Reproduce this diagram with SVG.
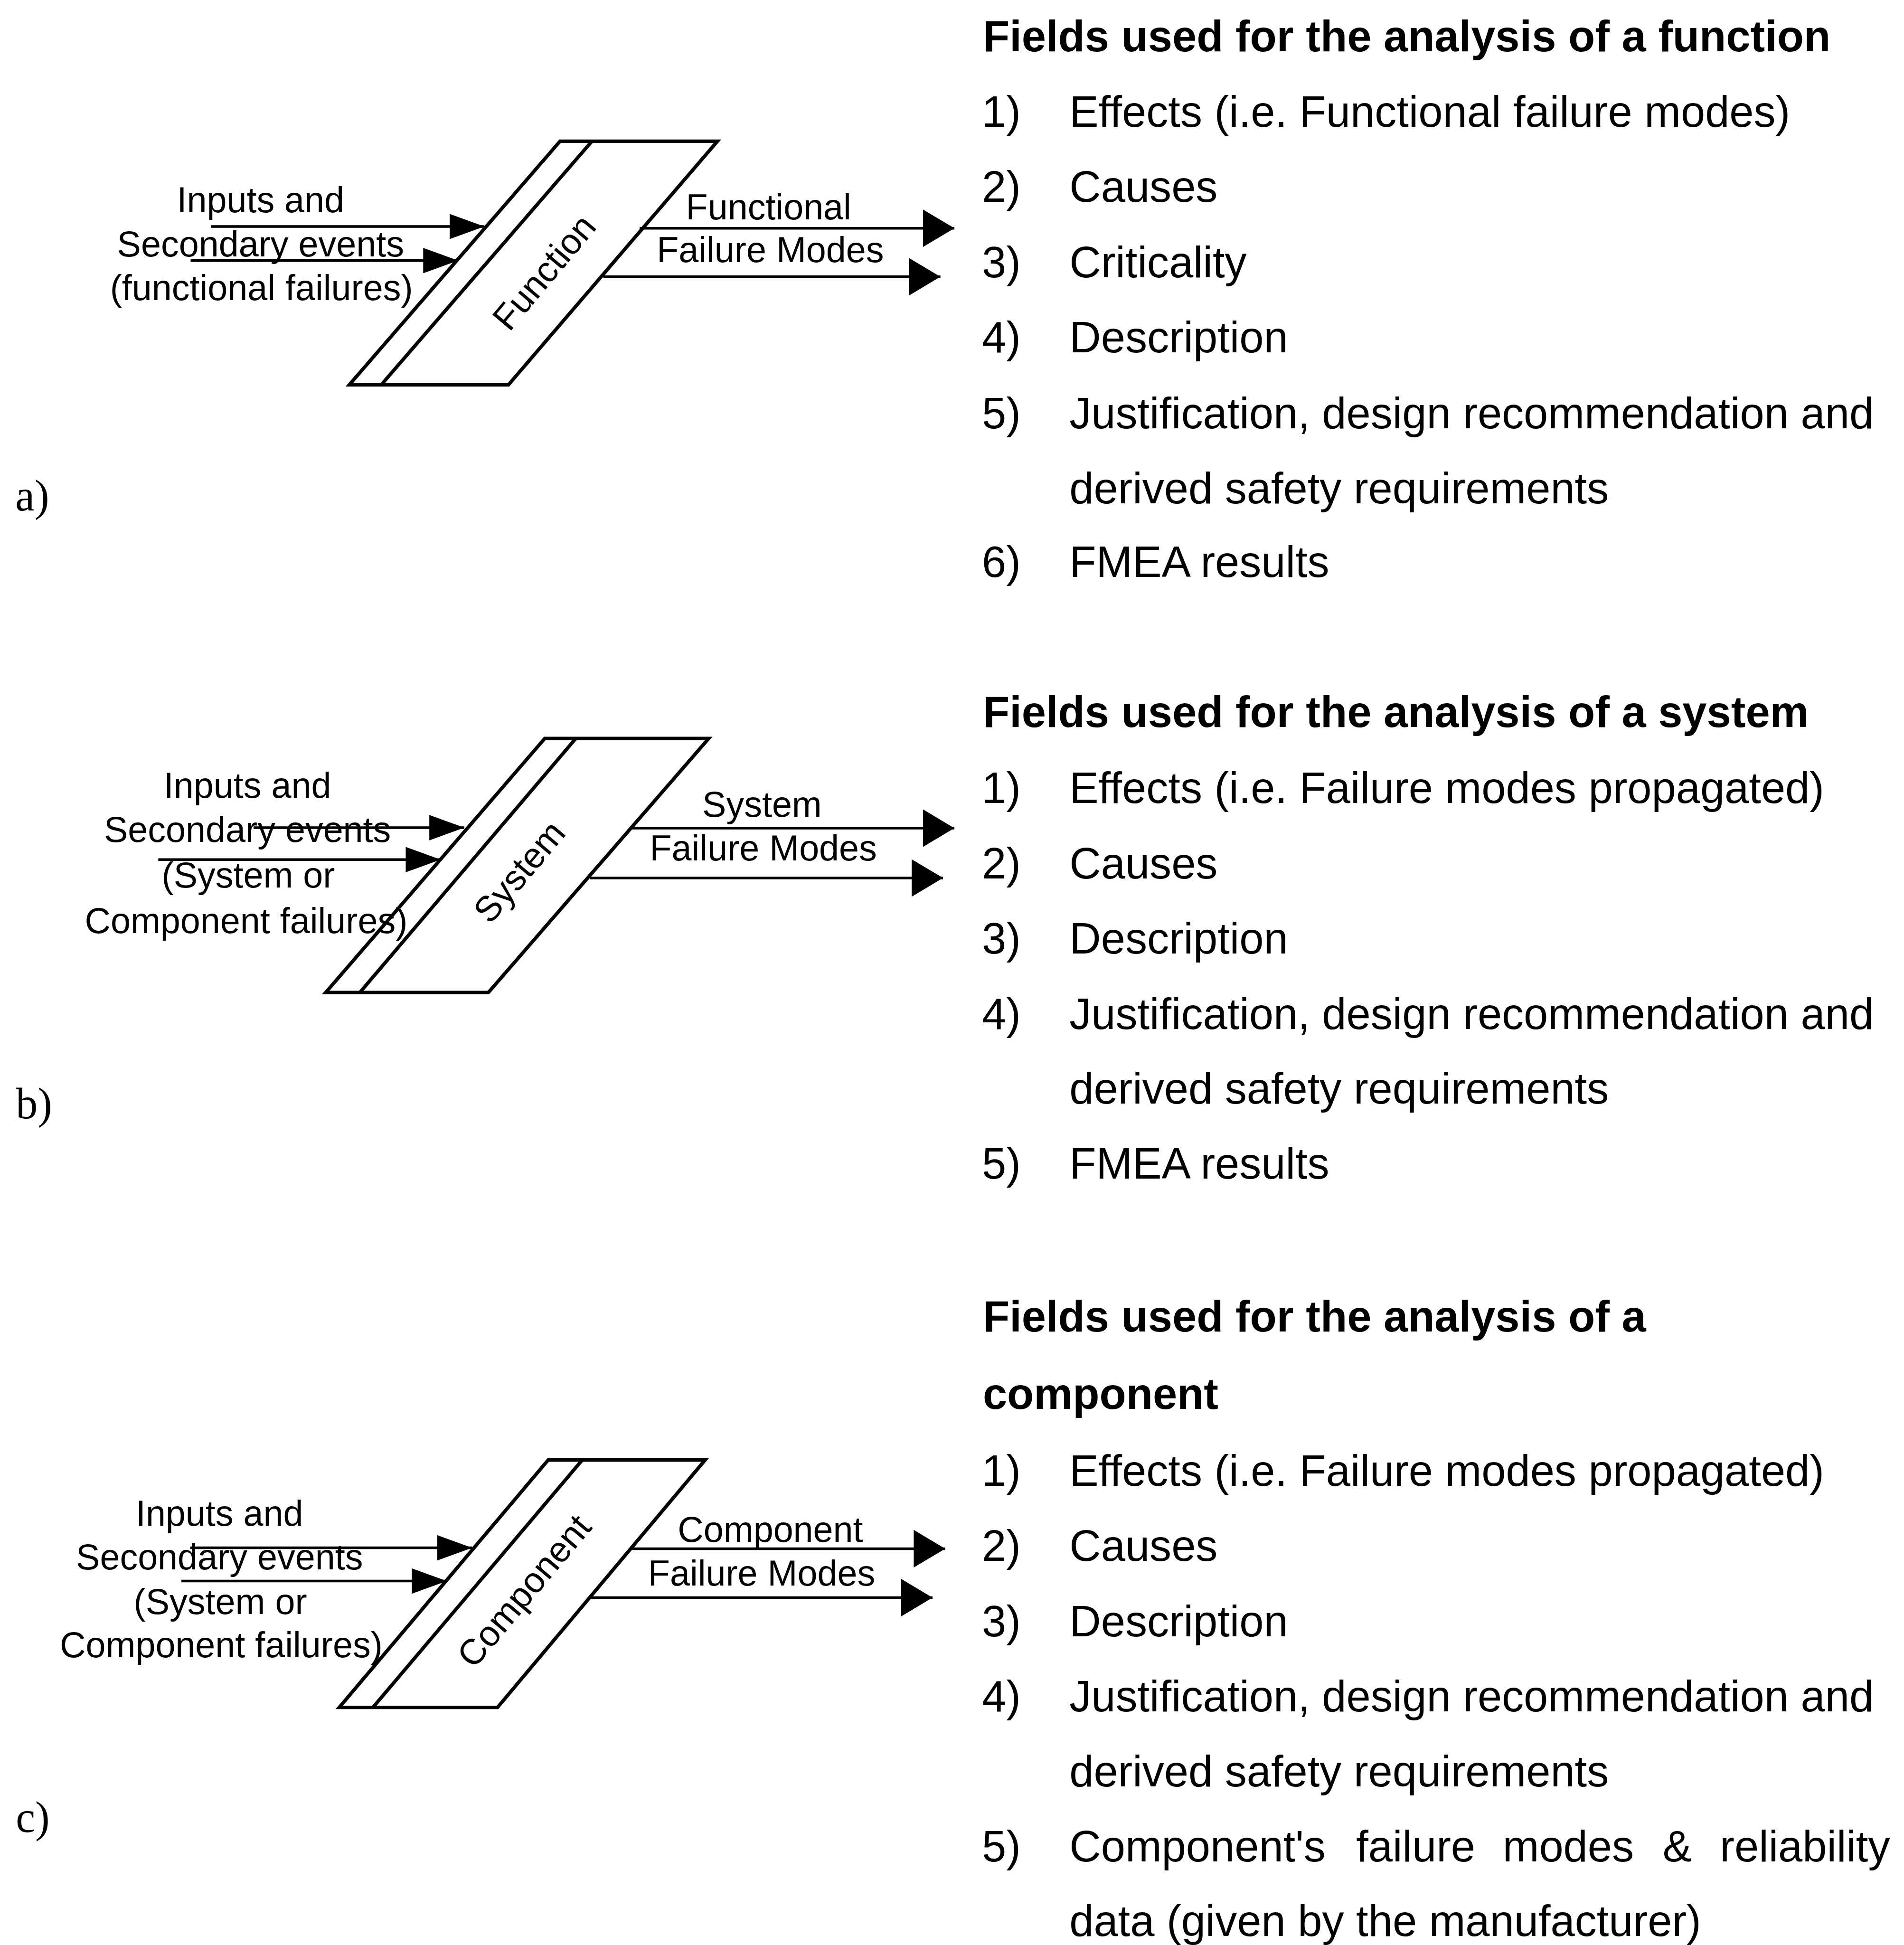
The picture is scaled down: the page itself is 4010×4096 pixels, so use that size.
<svg xmlns="http://www.w3.org/2000/svg" width="4010" height="4096" viewBox="0 0 4010 4096">
  <style>
    .shape { fill: #ffffff; stroke: #000000; stroke-width: 8; stroke-linejoin: miter; }
    .divider { fill: none; stroke: #000000; stroke-width: 8; }
    .flow { fill: none; stroke: #000000; stroke-width: 6; }
    .in { marker-end: url(#headIn); }
    .out { marker-end: url(#headOut); }
    .lbl { font-family: "Liberation Sans", Arial, Helvetica, sans-serif; font-size: 82px; fill: #000000; text-anchor: middle; }
    .body { font-family: "Liberation Sans", Arial, Helvetica, sans-serif; font-size: 100px; fill: #000000; }
    .head { font-family: "Liberation Sans", Arial, Helvetica, sans-serif; font-size: 100px; font-weight: bold; fill: #000000; }
    .tag { font-family: "Liberation Serif", "Times New Roman", serif; font-size: 100px; fill: #000000; }
  </style>
  <defs>
    <marker id="headIn" markerUnits="userSpaceOnUse" markerWidth="80" markerHeight="58" viewBox="0 0 80 58" refX="80" refY="29" orient="auto">
      <path d="M0,0 L80,29 L0,58 Z" fill="#000000"/>
    </marker>
    <marker id="headOut" markerUnits="userSpaceOnUse" markerWidth="72" markerHeight="86" viewBox="0 0 72 86" refX="72" refY="43" orient="auto">
      <path d="M0,0 L72,43 L0,86 Z" fill="#000000"/>
    </marker>
  </defs>

  <rect x="0" y="0" width="4010" height="4096" fill="#ffffff"/>

  <g transform="scale(0.920781)">

    <!-- (a) function block -->
    <g id="node-function">
      <polygon class="shape" points="1281,323 1641,323 1163,880 799,880"/>
      <line class="divider" x1="1354" y1="323" x2="872" y2="880"/>
      <text class="lbl" transform="translate(1244,622) rotate(-50)" x="0" y="29">Function</text>
    </g>

    <!-- (b) system block -->
    <g id="node-system">
      <polygon class="shape" points="1246,1689 1621,1689 1117,2270 745,2270"/>
      <line class="divider" x1="1317" y1="1689" x2="823" y2="2270"/>
      <text class="lbl" transform="translate(1187,1993) rotate(-50)" x="0" y="29">System</text>
    </g>

    <!-- (c) component block -->
    <g id="node-component">
      <polygon class="shape" points="1254,3339 1613,3339 1138,3905 776,3905"/>
      <line class="divider" x1="1332" y1="3339" x2="853" y2="3905"/>
      <text class="lbl" transform="translate(1198,3638) rotate(-50)" x="0" y="29">Component</text>
    </g>

    <!-- input and output flows -->
    <g id="connectors">
      <line class="flow in" x1="483" y1="518" x2="1108" y2="518"/>
      <line class="flow in" x1="436" y1="596" x2="1048" y2="596"/>
      <line class="flow out" x1="1463" y1="522" x2="2183" y2="522"/>
      <line class="flow out" x1="1380" y1="633" x2="2151" y2="633"/>

      <line class="flow in" x1="580" y1="1893" x2="1062" y2="1893"/>
      <line class="flow in" x1="362" y1="1966" x2="1008" y2="1966"/>
      <line class="flow out" x1="1444" y1="1894" x2="2183" y2="1894"/>
      <line class="flow out" x1="1350" y1="2008" x2="2157" y2="2008"/>

      <line class="flow in" x1="435" y1="3540" x2="1080" y2="3540"/>
      <line class="flow in" x1="415" y1="3616" x2="1022" y2="3616"/>
      <line class="flow out" x1="1446" y1="3542" x2="2162" y2="3542"/>
      <line class="flow out" x1="1352" y1="3654" x2="2133" y2="3654"/>
    </g>

    <!-- flow labels -->
    <g id="flow-labels">
      <text class="lbl" x="596" y="485">Inputs and</text>
      <text class="lbl" x="596" y="586">Secondary events</text>
      <text class="lbl" x="598" y="686">(functional failures)</text>
      <text class="lbl" x="1758" y="502">Functional</text>
      <text class="lbl" x="1762" y="600">Failure Modes</text>

      <text class="lbl" x="566" y="1824">Inputs and</text>
      <text class="lbl" x="566" y="1925">Secondary events</text>
      <text class="lbl" x="568" y="2030">(System or</text>
      <text class="lbl" x="563" y="2134">Component failures)</text>
      <text class="lbl" x="1743" y="1868">System</text>
      <text class="lbl" x="1746" y="1968">Failure Modes</text>

      <text class="lbl" x="502" y="3489">Inputs and</text>
      <text class="lbl" x="502" y="3589">Secondary events</text>
      <text class="lbl" x="504" y="3691">(System or</text>
      <text class="lbl" x="506" y="3790">Component failures)</text>
      <text class="lbl" x="1762" y="3526">Component</text>
      <text class="lbl" x="1742" y="3626">Failure Modes</text>
    </g>

    <!-- part tags -->
    <g id="tags">
      <text class="tag" x="35" y="1168">a)</text>
      <text class="tag" x="36" y="2558">b)</text>
      <text class="tag" x="36" y="4190">c)</text>
    </g>

    <!-- field list: function -->
    <g id="fields-function">
      <text class="head" x="2248" y="117">Fields used for the analysis of a function</text>
      <text class="body" x="2246" y="290">1)</text><text class="body" x="2446" y="290">Effects (i.e. Functional failure modes)</text>
      <text class="body" x="2246" y="462">2)</text><text class="body" x="2446" y="462">Causes</text>
      <text class="body" x="2246" y="634">3)</text><text class="body" x="2446" y="634">Criticality</text>
      <text class="body" x="2246" y="806">4)</text><text class="body" x="2446" y="806">Description</text>
      <text class="body" x="2246" y="980">5)</text><text class="body" x="2446" y="980">Justification, design recommendation and</text>
      <text class="body" x="2446" y="1151">derived safety requirements</text>
      <text class="body" x="2246" y="1320">6)</text><text class="body" x="2446" y="1320">FMEA results</text>
    </g>

    <!-- field list: system -->
    <g id="fields-system">
      <text class="head" x="2248" y="1663">Fields used for the analysis of a system</text>
      <text class="body" x="2246" y="1836">1)</text><text class="body" x="2446" y="1836">Effects (i.e. Failure modes propagated)</text>
      <text class="body" x="2246" y="2009">2)</text><text class="body" x="2446" y="2009">Causes</text>
      <text class="body" x="2246" y="2181">3)</text><text class="body" x="2446" y="2181">Description</text>
      <text class="body" x="2246" y="2353">4)</text><text class="body" x="2446" y="2353">Justification, design recommendation and</text>
      <text class="body" x="2446" y="2524">derived safety requirements</text>
      <text class="body" x="2246" y="2695">5)</text><text class="body" x="2446" y="2695">FMEA results</text>
    </g>

    <!-- field list: component -->
    <g id="fields-component">
      <text class="head" x="2248" y="3045">Fields used for the analysis of a</text>
      <text class="head" x="2248" y="3222">component</text>
      <text class="body" x="2246" y="3398">1)</text><text class="body" x="2446" y="3398">Effects (i.e. Failure modes propagated)</text>
      <text class="body" x="2246" y="3570">2)</text><text class="body" x="2446" y="3570">Causes</text>
      <text class="body" x="2246" y="3742">3)</text><text class="body" x="2446" y="3742">Description</text>
      <text class="body" x="2246" y="3914">4)</text><text class="body" x="2446" y="3914">Justification, design recommendation and</text>
      <text class="body" x="2446" y="4086">derived safety requirements</text>
      <text class="body" x="2246" y="4257">5)</text>
      <text class="body" y="4257"><tspan x="2446">Component's</tspan><tspan x="3102">failure</tspan><tspan x="3437">modes</tspan><tspan x="3803">&amp;</tspan><tspan x="3934">reliability</tspan></text>
      <text class="body" x="2446" y="4428">data (given by the manufacturer)</text>
    </g>

  </g>
</svg>
